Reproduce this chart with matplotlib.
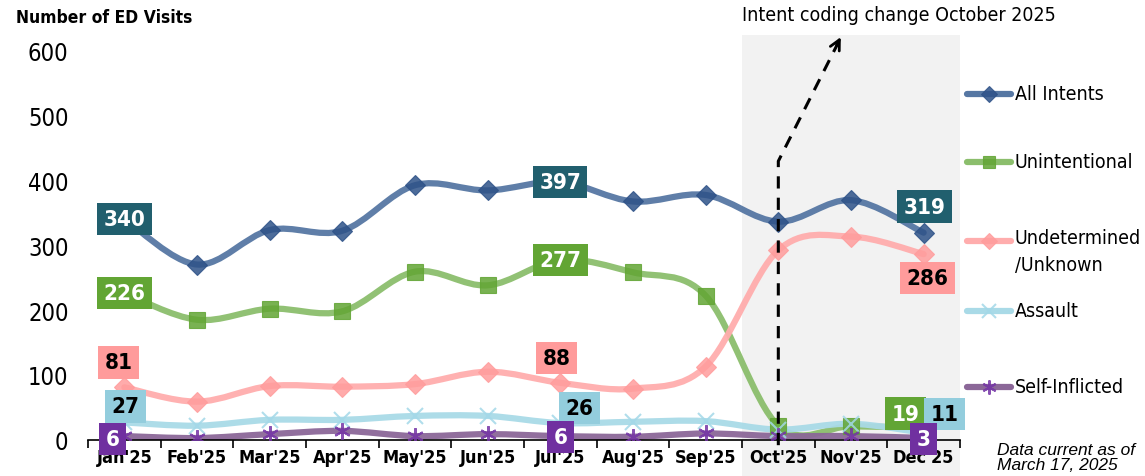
import matplotlib

matplotlib.use("Agg")

import numpy as np
from matplotlib import pyplot as plt
from matplotlib.lines import Line2D
from matplotlib.patches import PathPatch, Rectangle
from matplotlib.path import Path
from matplotlib.transforms import blended_transform_factory

plt.rcParams["font.family"] = ["DejaVu Sans"]
plt.rcParams["font.stretch"] = "condensed"

months = ["Jan'25", "Feb'25", "Mar'25", "Apr'25", "May'25", "Jun'25",
          "Jul'25", "Aug'25", "Sep'25", "Oct'25", "Nov'25", "Dec'25"]

all_intents = [340, 270, 323, 322, 392, 384, 397, 367, 377, 336, 369, 319]
unintentional = [226, 185, 202, 198, 259, 238, 277, 258, 222, 22, 21, 19]
undetermined = [81, 59, 83, 82, 86, 105, 88, 79, 113, 292, 313, 286]
assault = [27, 22, 31, 31, 37, 37, 26, 28, 29, 16, 25, 11]
self_inflicted = [6, 3, 9, 14, 6, 9, 6, 5, 10, 6, 6, 3]

series = [
    # name, values, line colour, marker, marker colour, marker size
    ("All Intents", all_intents, "#5677a3", "D", "#2e5288", 10),
    ("Unintentional", unintentional, "#8bbe6c", "s", "#62a534", 11),
    ("Undetermined\n/Unknown", undetermined, "#ffadad", "D", "#ff9c9c", 10),
    ("Assault", assault, "#a9dae7", "x", "#a3d8e8", 12),
    ("Self-Inflicted", self_inflicted, "#8b6798", (6, 2, 0), "#7434a6", 12),
]

# (series index, month index, text, box colour, text colour, dx px, dy px)
labels = [
    (0, 0, "340", "#215f6e", "white", 0, 0),
    (1, 0, "226", "#62a534", "white", 0, 0),
    (2, 0, "81", "#ff9b9b", "black", -6, 25),
    (3, 0, "27", "#93cddd", "black", 1, 16),
    (4, 0, "6", "#7030a0", "white", -12, -3),
    (0, 6, "397", "#215f6e", "white", 0, 0),
    (1, 6, "277", "#62a534", "white", 0, 0),
    (2, 6, "88", "#ff9b9b", "black", -4, 25),
    (3, 6, "26", "#93cddd", "black", 19, 15),
    (4, 6, "6", "#7030a0", "white", 0, -1),
    (0, 11, "319", "#215f6e", "white", 1, 26),
    (2, 11, "286", "#ff9b9b", "black", 4, -24),
    (1, 11, "19", "#62a534", "white", -18, 14),
    (3, 11, "11", "#93cddd", "black", 21, 19),
    (4, 11, "3", "#7030a0", "white", 0, -1),
]


def smooth_path(xs, ys):
    pts = np.column_stack([xs, ys]).astype(float)
    n = len(pts)
    verts = [pts[0]]
    codes = [Path.MOVETO]
    for i in range(n - 1):
        p0 = pts[max(i - 1, 0)]
        p1 = pts[i]
        p2 = pts[i + 1]
        p3 = pts[min(i + 2, n - 1)]
        verts += [p1 + (p2 - p0) / 6.0, p2 - (p3 - p1) / 6.0, p2]
        codes += [Path.CURVE4] * 3
    return Path(verts, codes)


fig = plt.figure(figsize=(11.45, 4.77), dpi=100)
ax = fig.add_axes([0.0769, 0.0755, 0.7615, 0.8175])
ax.patch.set_alpha(0)
data_axes = blended_transform_factory(ax.transData, ax.transAxes)

x = np.arange(len(months))

# shaded period after the coding change
ax.add_patch(Rectangle((8.5, -0.092), 3.0, 1.13, transform=data_axes, facecolor="#f2f2f2",
                       edgecolor="none", clip_on=False, zorder=0))

for name, vals, lc, mk, mc, ms in series:
    ax.add_patch(PathPatch(smooth_path(x, vals), facecolor="none", edgecolor=lc, lw=4.5,
                           alpha=0.95, capstyle="round", zorder=2))
    mew = 1.5 if mk in ("x", (6, 2, 0)) else 0.8
    ax.plot(x, vals, linestyle="none", marker=mk, markersize=ms, color=mc, markeredgecolor=mc,
            markeredgewidth=mew, alpha=0.85, zorder=3)

for si, mi, txt, bc, tc, dx, dy in labels:
    ax.annotate(txt, (x[mi], series[si][1][mi]), xytext=(dx, dy), textcoords="offset pixels",
                ha="center", va="center", fontsize=16, fontweight="bold", color=tc, zorder=6,
                bbox=dict(boxstyle="square,pad=0.28", facecolor=bc, edgecolor="none"))

# dashed marker for the October coding change
ax.plot([9, 9, 9.85], [-8, 429, 617], color="black", lw=2.2, linestyle=(0, (4, 3)), zorder=5,
        clip_on=False)
ax.annotate("", xy=(9.86, 620), xytext=(9.80, 607),
            arrowprops=dict(arrowstyle="->", color="black", lw=2.0, shrinkA=0, shrinkB=0,
                            mutation_scale=18),
            annotation_clip=False, zorder=5)
ax.text(8.5, 1.092, "Intent coding change October 2025", transform=data_axes,
        ha="left", va="center", fontsize=14, color="black")

ax.set_xlim(-0.5, 11.5)
ax.set_ylim(0, 600)
ax.set_yticks(range(0, 601, 100))
ax.set_xticks(x)
ax.set_xticklabels(months, fontsize=13, fontweight="bold")
ax.set_xticks(np.arange(-0.5, 12, 1), minor=True)
ax.tick_params(axis="x", which="major", length=0, pad=6)
ax.tick_params(axis="x", which="minor", length=6, width=1.2, direction="out")
ax.tick_params(axis="y", length=0, labelsize=17, pad=14)
for side in ("top", "right", "left"):
    ax.spines[side].set_visible(False)
ax.spines["bottom"].set_linewidth(1.2)

fig.text(16 / 1145, 0.962, "Number of ED Visits", fontsize=12.5, fontweight="bold", ha="left",
         va="center")

# legend drawn by hand to keep the uneven spacing of the original
leg_y = [95, 163, 242, 312, 388]
for (name, vals, lc, mk, mc, ms), py in zip(series, leg_y):
    yf = 1 - py / 477
    fig.add_artist(Line2D([967 / 1145, 1011 / 1145], [yf, yf], transform=fig.transFigure,
                          color=lc, lw=4.5, solid_capstyle="round"))
    mew = 1.5 if mk in ("x", (6, 2, 0)) else 0.8
    fig.add_artist(Line2D([989 / 1145], [yf], transform=fig.transFigure, marker=mk,
                          markersize=ms * 0.85, color=mc, markeredgecolor=mc, markeredgewidth=mew,
                          alpha=0.85))
    two_lines = "\n" in name
    fig.text(1015 / 1145, yf + (13 / 477 if two_lines else 0), name, fontsize=14, ha="left",
             va="top" if two_lines else "center", linespacing=1.55)

fig.text(997 / 1145, 0.04, "Data current as of\nMarch 17, 2025", fontsize=12.5, style="italic",
         ha="left", va="center", family=["Liberation Sans", "DejaVu Sans"], stretch="normal",
         linespacing=1.0)

fig.savefig("out.png", dpi=100)
